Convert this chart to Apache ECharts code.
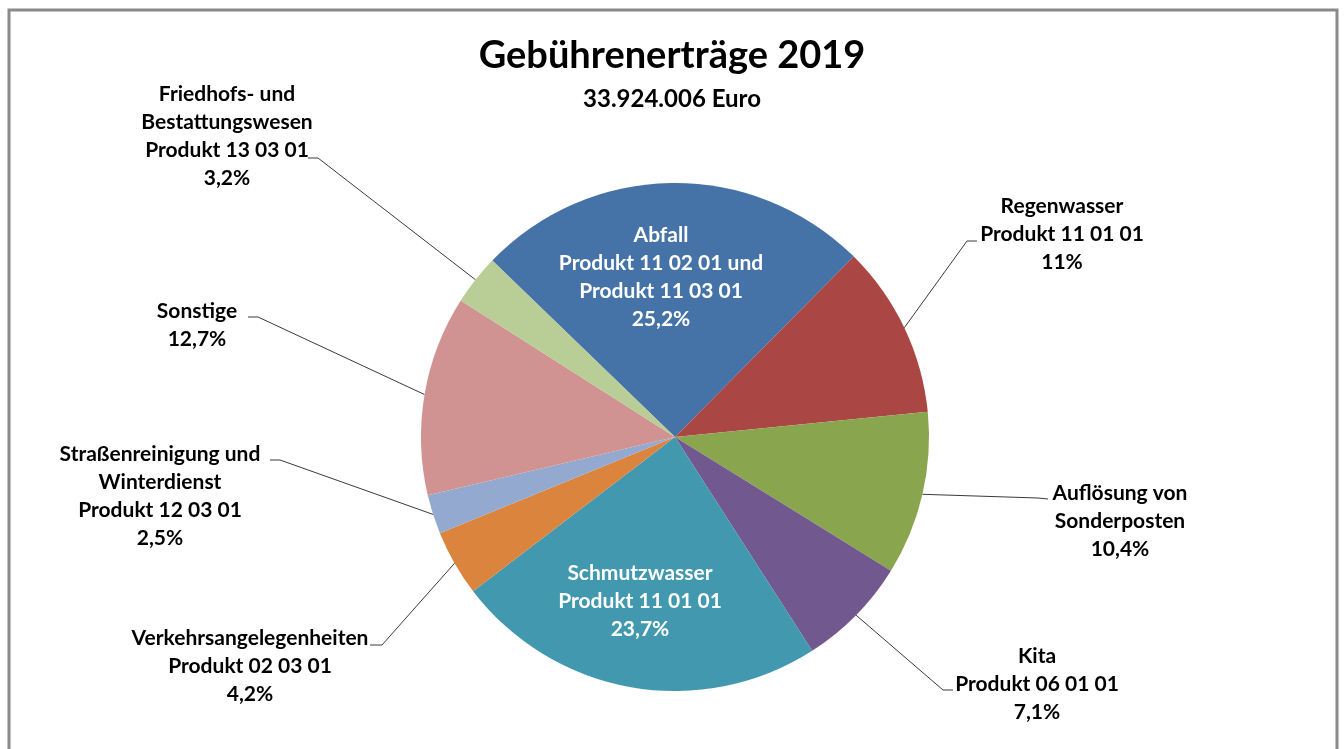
<!DOCTYPE html>
<html><head><meta charset="utf-8">
<script src="https://cdn.jsdelivr.net/npm/echarts/dist/echarts.min.js"></script>
<style>html,body{margin:0;padding:0;background:#fff}#c{width:1344px;height:749px}</style>
</head><body><div id="c"></div><script>
const titleText = 'Gebührenerträge 2019';
const subtitleText = '33.924.006 Euro';
const categories = [
  'Abfall\nProdukt 11 02 01 und\nProdukt 11 03 01',
  'Regenwasser\nProdukt 11 01 01',
  'Auflösung von\nSonderposten',
  'Kita\nProdukt 06 01 01',
  'Schmutzwasser\nProdukt 11 01 01',
  'Verkehrsangelegenheiten\nProdukt 02 03 01',
  'Straßenreinigung und\nWinterdienst\nProdukt 12 03 01',
  'Sonstige',
  'Friedhofs- und\nBestattungswesen\nProdukt 13 03 01'
];
const values = [25.2, 11, 10.4, 7.1, 23.7, 4.2, 2.5, 12.7, 3.2];
const colors = ['#4572A7','#AA4643','#89A54E','#71588F','#4198AF','#DB843D','#93A9CF','#D19392','#B9CD96'];
const insideLabel = [true,false,false,false,true,false,false,false,false];
// label block centres and leader-line bends (layout only)
const labelCenters = [[661,277],[1062,234],[1120,521],[1037,684],[640,601],[250,666],[160,496],[197,325],[227,136]];
const leaderBends = [
  null,
  [[967,241],[977,241]],
  [[1038,498],[1048,499]],
  [[943,690],[953,690]],
  null,
  [[382,645],[370,645]],
  [[280,460],[270,460]],
  [[258,317],[248,317]],
  [[318,158],[308,158]]
];
const FONT = 'Lato';
const chart = echarts.init(document.getElementById('c'), null, {renderer:'canvas'});
chart.setOption({
  animation: false,
  backgroundColor: '#fff',
  graphic: [{type:'rect', shape:{x:9, y:10, width:1328, height:780}, style:{fill:'none', stroke:'#8a8a8a', lineWidth:3}}],
  title: [
    {text: titleText, left:'center', top: 32, textStyle:{fontFamily:FONT, fontWeight:'bold', fontSize:38, color:'#000'}},
    {text: subtitleText, left:'center', top: 82, textStyle:{fontFamily:FONT, fontWeight:'bold', fontSize:24, color:'#000'}}
  ],
  series: [{
    type:'pie',
    center:[675,437],
    radius:254,
    startAngle:136,
    clockwise:true,
    avoidLabelOverlap:false,
    data: values.map((v,i)=>({
      name: categories[i], value: v,
      itemStyle:{color: colors[i]},
      label:{position: insideLabel[i] ? 'inside':'outside', color: insideLabel[i] ? '#fff' : '#000'},
      labelLine:{show: !insideLabel[i]}
    })),
    itemStyle:{borderWidth:0},
    label:{
      show:true,
      fontFamily:FONT, fontWeight:'bold', fontSize:21, lineHeight:28, align:'center',
      formatter: p => p.name + '\n' + String(p.value).replace('.', ',') + '%'
    },
    labelLine:{show:true, lineStyle:{color:'#3a3a3a', width:1}, length:10, length2:10},
    labelLayout: function (params) {
      const i = params.dataIndex;
      const c = labelCenters[i];
      const res = {x:c[0], y:c[1], align:'center', verticalAlign:'middle'};
      if (leaderBends[i] && params.labelLinePoints) {
        res.labelLinePoints = [params.labelLinePoints[0], leaderBends[i][0], leaderBends[i][1]];
      }
      return res;
    }
  }]
});
</script></body></html>
